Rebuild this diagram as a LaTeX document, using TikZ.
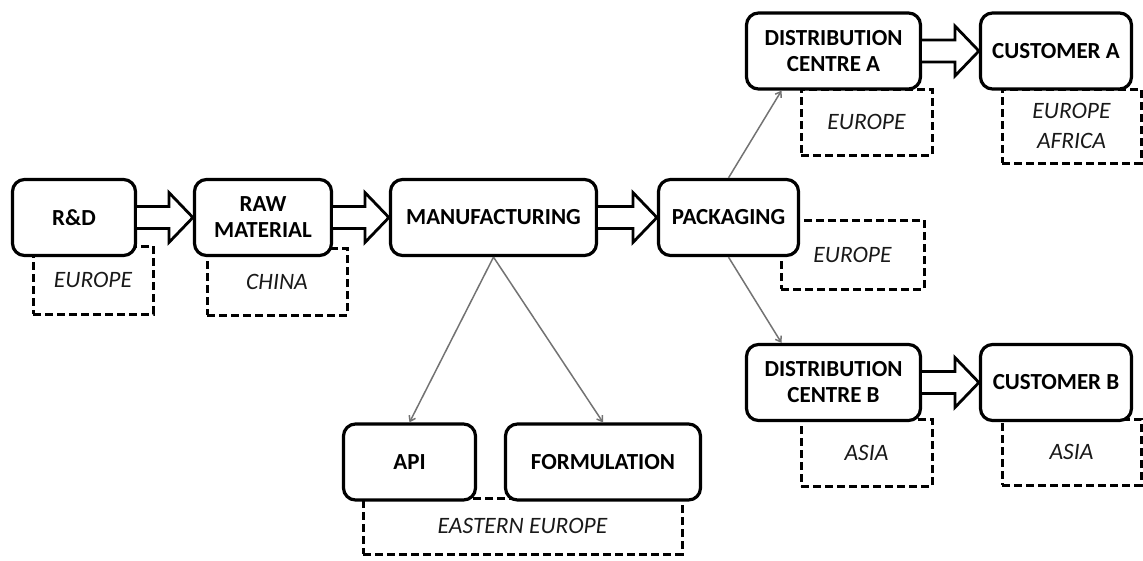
\documentclass[tikz,border=0pt]{standalone}
\usepackage{fontspec}
\setmainfont{Carlito}
\usetikzlibrary{calc,arrows.meta}

% hollow block arrow from the east side of one stage to the west side of the next
\newcommand{\fatarrow}[2]{%
  \draw[fatarrow] let \p1=(#1.east), \p2=(#2.west) in
    (\x1,\y1+11pt) -- (\x2-24pt,\y1+11pt) -- (\x2-24pt,\y1+25pt) -- (\x2,\y1)
    -- (\x2-24pt,\y1-25pt) -- (\x2-24pt,\y1-11pt) -- (\x1,\y1-11pt);}

\begin{document}
\begin{tikzpicture}[x=1pt,y=-1pt,
    stage/.style={draw, line width=3.2pt, rounded corners=12pt, fill=white,
      font=\bfseries\fontsize{23}{26}\selectfont, align=center,
      inner sep=0pt, minimum height=76pt},
    region/.style={draw, line width=3pt, dash pattern=on 8pt off 4pt,
      font=\itshape\fontsize{23.5}{30}\selectfont, text=black!90, align=center,
      inner sep=0pt},
    fatarrow/.style={draw, fill=white, line width=2.8pt, line join=miter},
    link/.style={draw=black!55, line width=1.5pt, -{Straight Barb[length=5pt,width=7pt]}}]
    \useasboundingbox (0,0) rectangle (1143,560);

    % locations (dashed, behind the stages)
    \node[region, minimum width=120pt, minimum height=68pt] (rdloc) at (93,280) {EUROPE};
    \node[region, minimum width=140pt, minimum height=67pt] (rawloc) at (277,281.5) {CHINA};
    \node[region, minimum width=143pt, minimum height=69pt] (packloc) at (852.5,254.5) {EUROPE};
    \node[region, minimum width=131pt, minimum height=66pt] (distAloc) at (866.5,122) {EUROPE};
    \node[region, minimum width=139pt, minimum height=74pt] (custAloc) at (1071.5,126) {EUROPE\\AFRICA};
    \node[region, minimum width=131pt, minimum height=67pt] (distBloc) at (866.5,452.5) {ASIA};
    \node[region, minimum width=139pt, minimum height=66pt] (custBloc) at (1071.5,452) {ASIA};
    \node[region, minimum width=319pt, minimum height=56pt] (apiloc) at (522.5,526) {EASTERN EUROPE};

    % main chain
    \node[stage, minimum width=123pt] (rd) at (74,217.5) {R\&D};
    \node[stage, minimum width=137pt] (raw) at (263,217.5) {RAW\\MATERIAL};
    \node[stage, minimum width=206pt] (manuf) at (493.5,217.5) {MANUFACTURING};
    \node[stage, minimum width=140pt] (pack) at (728.5,217.5) {PACKAGING};

    % distribution and customers
    \node[stage, minimum width=174pt] (distA) at (833.5,51) {DISTRIBUTION\\CENTRE A};
    \node[stage, minimum width=151pt] (custA) at (1056,51) {CUSTOMER A};
    \node[stage, minimum width=174pt] (distB) at (833.5,382.5) {DISTRIBUTION\\CENTRE B};
    \node[stage, minimum width=151pt] (custB) at (1056,382.5) {CUSTOMER B};

    % API and formulation
    \node[stage, minimum width=132pt] (api) at (409.5,462) {API};
    \node[stage, minimum width=195pt] (form) at (603,462) {FORMULATION};

    % block arrows
    \fatarrow{rd}{raw}
    \fatarrow{raw}{manuf}
    \fatarrow{manuf}{pack}
    \fatarrow{distA}{custA}
    \fatarrow{distB}{custB}

    % thin links
    \draw[link] (manuf.south) -- (api.north);
    \draw[link] (manuf.south) -- (form.north);
    \draw[link] (pack.north) -- ([xshift=-52pt]distA.south);
    \draw[link] (pack.south) -- ([xshift=-52pt]distB.north);
\end{tikzpicture}
\end{document}
